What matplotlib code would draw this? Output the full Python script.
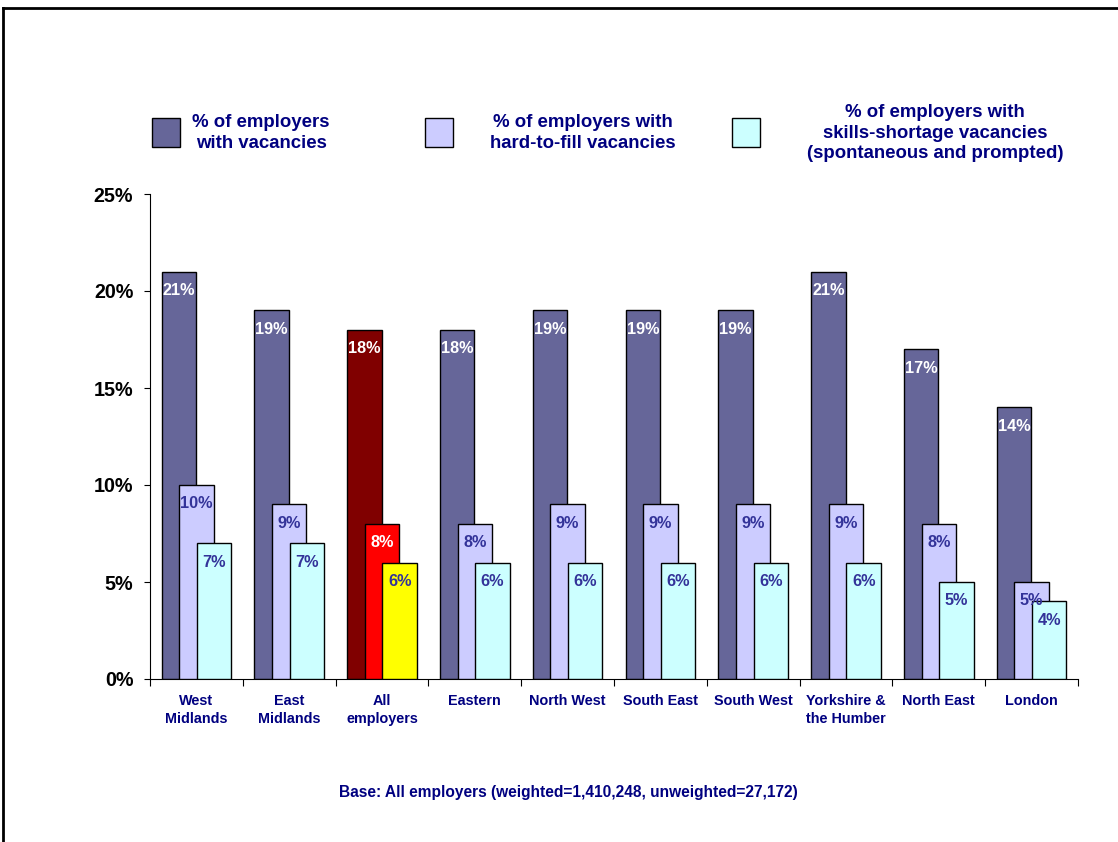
import matplotlib.pyplot as plt
from matplotlib.patches import Rectangle
from matplotlib.lines import Line2D
import numpy as np

plt.rcParams['font.family'] = ['Liberation Sans', 'DejaVu Sans']
plt.rcParams['font.weight'] = 'bold'

categories = ['West\nMidlands', 'East\nMidlands', 'All\nemployers', 'Eastern', 'North West',
              'South East', 'South West', 'Yorkshire &\nthe Humber', 'North East', 'London']
with_vacancies = [21, 19, 18, 18, 19, 19, 19, 21, 17, 14]
hard_to_fill = [10, 9, 8, 8, 9, 9, 9, 9, 8, 5]
skills_shortage = [7, 7, 6, 6, 6, 6, 6, 6, 5, 4]
series_names = ['% of employers\nwith vacancies',
                '% of employers with\nhard-to-fill vacancies',
                '% of employers with\nskills-shortage vacancies\n(spontaneous and prompted)']
highlight = 'All\nemployers'

colors = ['#666699', '#CCCCFF', '#CCFFFF']
highlight_colors = ['#800000', '#FF0000', '#FFFF00']
label_colors = ['white', '#333399', '#333399']
highlight_label_colors = ['white', 'white', '#333399']
navy = '#000080'

fig = plt.figure(figsize=(11.18, 8.42), dpi=100)
ax = fig.add_axes([150 / 1118, 1 - 679 / 842, 928 / 1118, 485 / 842])

x = np.arange(len(categories))
width = 0.37
offsets = [-0.19, 0.0, 0.19]
series = [with_vacancies, hard_to_fill, skills_shortage]

for k, (vals, off) in enumerate(zip(series, offsets)):
    cols = [highlight_colors[k] if c == highlight else colors[k] for c in categories]
    bars = ax.bar(x + off, vals, width, color=cols, edgecolor='black', linewidth=1, zorder=2 + k)
    for i, (b, v) in enumerate(zip(bars, vals)):
        lc = highlight_label_colors[k] if categories[i] == highlight else label_colors[k]
        ax.text(b.get_x() + b.get_width() / 2, v - 0.97, f'{v}%', ha='center', va='center',
                color=lc, fontsize=11.7, fontweight='bold', zorder=10)

ax.set_xlim(-0.5, len(categories) - 0.5)
ax.set_ylim(0, 25)
ax.set_yticks(range(0, 26, 5))
ax.set_yticklabels([f'{t}%' for t in range(0, 26, 5)], fontsize=14.2, fontweight='bold')
ax.set_xticks(np.arange(-0.5, len(categories), 1))
ax.set_xticklabels([])
ax.set_xticks(x, minor=True)
ax.set_xticklabels(categories, minor=True, fontsize=10.4, fontweight='bold', color=navy,
                   linespacing=1.3)
ax.tick_params(axis='x', which='minor', length=0, pad=11)
ax.tick_params(axis='x', which='major', length=5, direction='out')
ax.tick_params(axis='y', length=4, direction='out', pad=8)
for s in ['top', 'right']:
    ax.spines[s].set_visible(False)

# legend drawn by hand
legend_boxes = [152, 425, 732]
legend_text_x = [261, 583, 935]
for k in range(3):
    fig.add_artist(Rectangle((legend_boxes[k] / 1118, 1 - 147 / 842), 28 / 1118, 29 / 842,
                             transform=fig.transFigure, facecolor=colors[k], edgecolor='black', lw=1))
    fig.text(legend_text_x[k] / 1118, 1 - 133 / 842, series_names[k], ha='center', va='center',
             fontsize=13.4, fontweight='bold', color=navy, linespacing=1.27)

fig.text(568 / 1118, 1 - 793 / 842, 'Base: All employers (weighted=1,410,248, unweighted=27,172)',
         ha='center', va='center', fontsize=11.2, fontweight='bold', color=navy)

# outer frame
fig.add_artist(Line2D([3 / 1118, 3 / 1118], [0, 1 - 8 / 842], transform=fig.transFigure, color='black', lw=2))
fig.add_artist(Line2D([3 / 1118, 1], [1 - 8 / 842, 1 - 8 / 842], transform=fig.transFigure, color='black', lw=2))

fig.savefig('out.png', dpi=100)
